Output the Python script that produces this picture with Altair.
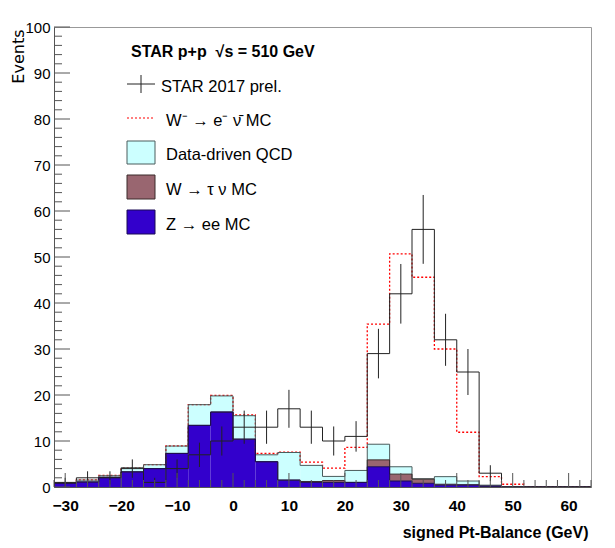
import altair as alt
import pandas as pd
import numpy as np

# ---------------- data ----------------
bin_lo = list(range(-32, 64, 4))          # 24 bins of 4 GeV, -32 .. 64
bin_width = 4
data_counts = [1, 2, 2, 4, 1, 4, 7, 10, 13, 13, 17, 13, 10, 11, 29, 42, 56, 32, 25, 3, 0, 0, 0, 0]
z_ee = [0.8, 1.1, 2.1, 3.3, 4.0, 7.3, 13.4, 16.3, 10.4, 5.5, 1.5, 1.0, 1.0, 1.0, 4.4, 1.3, 0.8, 0.4, 0.4, 0.2, 0, 0, 0, 0]
w_tau = [0, 0, 0, 0, 0, 0, 0, 0, 0, 0, 0, 0.2, 0.4, 0, 1.5, 1.5, 0.9, 0.2, 0.1, 0, 0, 0, 0, 0]
qcd = [0.1, 0.4, 0.35, 0.9, 0.85, 1.6, 4.5, 3.5, 5.1, 1.5, 6.0, 3.5, 0.9, 2.6, 3.4, 1.6, 0.1, 1.65, 0.8, 0.2, 0, 0, 0, 0]
w_sig = [0, 0.05, 0.05, 0, 0, 0.05, 0, 0.1, 0.2, 0.3, 0.1, 0.7, 1.8, 5.0, 26.1, 46.3, 43.8, 27.75, 10.6, 1.85, 0.6, 0.05, 0.05, 0.05]

x_ticks_major = list(range(-30, 61, 10))
y_ticks_major = list(range(0, 101, 10))

FONT = "Liberation Sans"
W, H = 537, 460

xs = alt.Scale(domain=[-32, 64], nice=False, zero=False)
ys = alt.Scale(domain=[0, 100], nice=False, zero=False)

X_AX = alt.Axis(
    values=x_ticks_major, title="signed Pt-Balance (GeV)", grid=False, ticks=False,
    domain=True, domainColor="#555", labelFont=FONT, labelFontSize=15.5, labelFontWeight="bold",
    labelColor="black", labelPadding=11, labelFlush=False,
    titleFont=FONT, titleFontSize=16, titleFontWeight="bold", titleColor="black",
    titleAnchor="end", titleAlign="right", titleX=W - 3, titleY=50, titleBaseline="alphabetic")
Y_AX = alt.Axis(
    values=y_ticks_major, title="Events", grid=False, ticks=False, domain=True,
    domainColor="#555", labelFont=FONT, labelFontSize=15, labelColor="black", labelPadding=4,
    titleFont="DejaVu Sans", titleFontSize=16, titleFontWeight="normal", titleColor="black",
    titleAngle=270, titleAlign="right", titleBaseline="alphabetic", titleX=-31, titleY=2)


def XE(f):
    return alt.X(f, scale=xs, axis=X_AX, title="signed Pt-Balance (GeV)")


def YE(f):
    return alt.Y(f, scale=ys, axis=Y_AX, title="Events")


# ---------------- derived tables ----------------
c1 = np.array(z_ee)
c2 = c1 + np.array(w_tau)
c3 = c2 + np.array(qcd)
c4 = c3 + np.array(w_sig)

fill_rows = []
for i, lo in enumerate(bin_lo):
    hi = lo + bin_width
    fill_rows.append(dict(lo=lo, hi=hi, y0=0.0, y1=float(c1[i]), comp="Z"))
    fill_rows.append(dict(lo=lo, hi=hi, y0=float(c1[i]), y1=float(c2[i]), comp="tau"))
    fill_rows.append(dict(lo=lo, hi=hi, y0=float(c2[i]), y1=float(c3[i]), comp="qcd"))
fills = pd.DataFrame(fill_rows)
fills = fills[fills.y1 > fills.y0]


def step_df(vals):
    pts = [(bin_lo[0], 0.0)]
    for lo, v in zip(bin_lo, vals):
        pts.append((lo, float(v)))
    pts.append((bin_lo[-1] + bin_width, float(vals[-1])))
    pts.append((bin_lo[-1] + bin_width, 0.0))
    return pd.DataFrame({"x": [p[0] for p in pts], "v": [p[1] for p in pts], "o": list(range(len(pts)))})


def step_line(vals, color, width=1.0, dash=None):
    kw = dict(interpolate="step-after", color=color, strokeWidth=width, clip=True)
    if dash:
        kw["strokeDash"] = dash
    return alt.Chart(step_df(vals)).mark_line(**kw).encode(
        x=XE("x:Q"), y=YE("v:Q"), order="o:Q")


# ---------------- layers ----------------
fill_layer = alt.Chart(fills).mark_rect(strokeWidth=0).encode(
    x=XE("lo:Q"), x2="hi:Q",
    y=YE("y0:Q"), y2="y1:Q",
    color=alt.Color("comp:N", scale=alt.Scale(domain=["Z", "tau", "qcd"],
                                              range=["#3300cc", "#996670", "#ccffff"]), legend=None),
)

line_tot = step_line(c4, "#ff0000", 1.3, [2, 2])
line_qcd = step_line(c3, "#4a5c5c", 1.0)
line_tau = step_line(c2, "#3a2a2a", 1.0)
line_z = step_line(c1, "#1a0a55", 1.0)
line_data = step_line(data_counts, "#222222", 1.0)

centers = [lo + bin_width / 2 for lo in bin_lo]
err = pd.DataFrame({"x": centers, "v": data_counts})
err["lo"] = err.v - np.sqrt(err.v)
err["hi"] = err.v + np.sqrt(err.v)
err = err[err.v > 0]
err_layer = alt.Chart(err).mark_rule(color="#222222", strokeWidth=1).encode(
    x=XE("x:Q"), y=YE("lo:Q"), y2="hi:Q")

# inward ticks (ROOT style)
x_minor = pd.DataFrame({"v": [t for t in range(-32, 65, 2) if t % 10 != 0]})
x_major = pd.DataFrame({"v": x_ticks_major})
y_minor = pd.DataFrame({"v": [t for t in range(0, 101, 2) if t % 10 != 0]})
y_major = pd.DataFrame({"v": y_ticks_major})
tick_col = "#555555"
xt_min = alt.Chart(x_minor).mark_rule(color=tick_col, strokeWidth=1).encode(
    x=XE("v:Q"), y=alt.value(H), y2=alt.value(H - 7))
xt_maj = alt.Chart(x_major).mark_rule(color=tick_col, strokeWidth=1).encode(
    x=XE("v:Q"), y=alt.value(H), y2=alt.value(H - 14))
yt_min = alt.Chart(y_minor).mark_rule(color=tick_col, strokeWidth=1).encode(
    y=YE("v:Q"), x=alt.value(0), x2=alt.value(8))
yt_maj = alt.Chart(y_major).mark_rule(color=tick_col, strokeWidth=1).encode(
    y=YE("v:Q"), x=alt.value(0), x2=alt.value(16))

# ---------------- legend (drawn by hand, ROOT TLegend style) ----------------
one = pd.DataFrame({"a": [0]})


def txt(s, x, y, bold=False, size=16.5):
    return alt.Chart(one).mark_text(text=s, font=FONT, fontSize=size, align="left",
                                    baseline="alphabetic", color="black",
                                    fontWeight="bold" if bold else "normal").encode(
        x=alt.value(x), y=alt.value(y))


def box(y0, y1, fill, stroke):
    return alt.Chart(one).mark_rect(fill=fill, stroke=stroke, strokeWidth=1).encode(
        x=alt.value(73), x2=alt.value(101), y=alt.value(y0), y2=alt.value(y1))


legend_layers = [
    txt("STAR p+p\u00a0\u00a0\u221as = 510 GeV", 77, 30, bold=True, size=16),
    alt.Chart(one).mark_rule(color="#222", strokeWidth=1).encode(
        x=alt.value(73), x2=alt.value(101), y=alt.value(57)),
    alt.Chart(one).mark_rule(color="#222", strokeWidth=1).encode(
        x=alt.value(87), y=alt.value(48), y2=alt.value(66)),
    txt("STAR 2017 prel.", 107, 65),
    alt.Chart(one).mark_rule(color="#ff0000", strokeWidth=1.2, strokeDash=[2, 2]).encode(
        x=alt.value(73), x2=alt.value(101), y=alt.value(91)),
    txt("W\u207b \u2192 e\u207b \u03bd\u0304 MC", 112, 99),
    box(114, 137, "#ccffff", "#4a5c5c"),
    txt("Data-driven QCD", 112, 133),
    box(148, 172, "#996670", "#3a2a2a"),
    txt("W \u2192 \u03c4 \u03bd MC", 112, 168),
    box(183, 207, "#3300cc", "#1a0a55"),
    txt("Z \u2192 ee MC", 112, 203),
]

chart = alt.layer(
    fill_layer, line_tot, line_qcd, line_tau, line_z, line_data, err_layer,
    xt_min, xt_maj, yt_min, yt_maj, *legend_layers
).properties(
    width=W, height=H,
    autosize=alt.AutoSizeParams(type="none"),
    padding={"left": 54, "top": 27, "right": 24, "bottom": 61},
    background="white",
).configure_view(stroke="#999999", strokeWidth=1)

chart.save("out.html", embed_options={"renderer": "svg", "actions": False})
